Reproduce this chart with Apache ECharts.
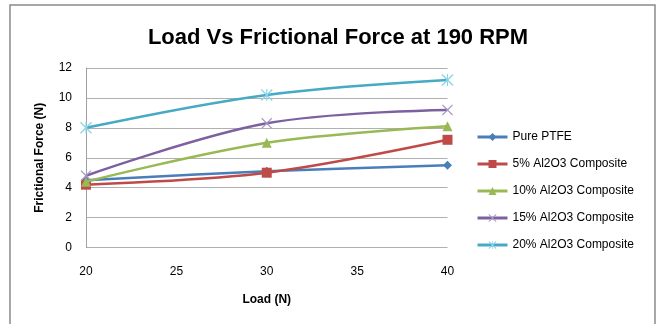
<!DOCTYPE html>
<html>
<head>
<meta charset="utf-8">
<script src="https://cdn.jsdelivr.net/npm/echarts@6/dist/echarts.min.js"></script>
<style>
html,body{margin:0;padding:0;background:#fff;}
#chart{width:662px;height:324px;}
</style>
</head>
<body>
<div id="chart"></div>
<script>
const loads = [20, 30, 40];
const purePTFE = [4.5, 5.1, 5.5];
const al5 = [4.2, 5.0, 7.2];
const al10 = [4.4, 7.0, 8.1];
const al15 = [4.8, 8.3, 9.2];
const al20 = [8.0, 10.2, 11.2];
const seriesNames = ['Pure PTFE', '5% Al2O3 Composite', '10% Al2O3 Composite', '15% Al2O3 Composite', '20% Al2O3 Composite'];
const xTicks = [20, 25, 30, 35, 40];
const yTicks = [0, 2, 4, 6, 8, 10, 12];

const colors = ['#4a7ebb', '#be4b48', '#98b954', '#7d60a0', '#46aac5'];
const xPath = 'path://M0,0.8L0.8,0L5,4.2L9.2,0L10,0.8L5.8,5L10,9.2L9.2,10L5,5.8L0.8,10L0,9.2L4.2,5Z';
const starPath = 'path://M0,0.8L0.8,0L5,4.2L9.2,0L10,0.8L5.8,5L10,9.2L9.2,10L5,5.8L0.8,10L0,9.2L4.2,5Z M4.55,0L5.45,0L5.45,10L4.55,10Z';
const symbols = ['diamond', 'rect', 'triangle', xPath, starPath];
const symbolSizes = [9, 10, 10, 11, 12];
const symbolColors = ['#4a7ebb', '#be4b48', '#98b954', '#a898c4', '#8fd3e8'];
const allData = [purePTFE, al5, al10, al15, al20];

const chart = echarts.init(document.getElementById('chart'), null, {renderer: 'canvas'});
const font = '"Liberation Sans", Arial, sans-serif';

chart.setOption({
  animation: false,
  backgroundColor: '#fff',
  graphic: [{
    type: 'rect',
    shape: {x: 10, y: 5, width: 645, height: 330},
    style: {fill: 'none', stroke: '#8a8a8a', lineWidth: 1.5},
    silent: true
  }],
  title: {
    text: 'Load Vs Frictional Force at 190 RPM',
    left: 333, top: 22, textAlign: 'center',
    textStyle: {fontFamily: font, fontSize: 22, fontWeight: 'bold', color: '#000'}
  },
  grid: {left: 86, right: 214.5, top: 68, bottom: 76.5},
  legend: {
    orient: 'vertical', left: 471, top: 126,
    itemGap: 15, itemWidth: 30, itemHeight: 10,
    lineStyle: {width: 3},
    textStyle: {fontFamily: font, fontSize: 12, color: '#000'},
    data: seriesNames
  },
  xAxis: {
    type: 'value', min: 20, max: 40, interval: 5,
    name: 'Load (N)', nameLocation: 'middle', nameGap: 46,
    nameTextStyle: {fontFamily: font, fontSize: 12, fontWeight: 'bold', color: '#000'},
    axisLine: {show: false},
    axisTick: {show: false},
    axisLabel: {fontFamily: font, fontSize: 12, color: '#000', margin: 18,
      formatter: v => xTicks.includes(v) ? String(v) : ''},
    splitLine: {show: false}
  },
  yAxis: {
    type: 'value', min: 0, max: 12, interval: 2,
    name: 'Frictional Force (N)', nameLocation: 'middle', nameGap: 40,
    nameTextStyle: {fontFamily: font, fontSize: 12, fontWeight: 'bold', color: '#000'},
    axisLine: {show: true, lineStyle: {color: '#a0a0a0', width: 1}},
    axisTick: {show: false},
    axisLabel: {fontFamily: font, fontSize: 12, color: '#000', margin: 14,
      formatter: v => yTicks.includes(v) ? String(v) : ''},
    splitLine: {show: true, lineStyle: {color: '#b0b0b0', width: 1}}
  },
  series: seriesNames.map((name, i) => ({
    name: name,
    type: 'line',
    smooth: 0.35,
    data: loads.map((x, j) => [x, allData[i][j]]),
    symbol: symbols[i],
    symbolSize: symbolSizes[i],
    showAllSymbol: true,
    lineStyle: {color: colors[i], width: 2.5},
    itemStyle: {color: i >= 3 ? symbolColors[i] : colors[i]},
    color: colors[i],
    z: 2 + i
  }))
});
</script>
</body>
</html>
